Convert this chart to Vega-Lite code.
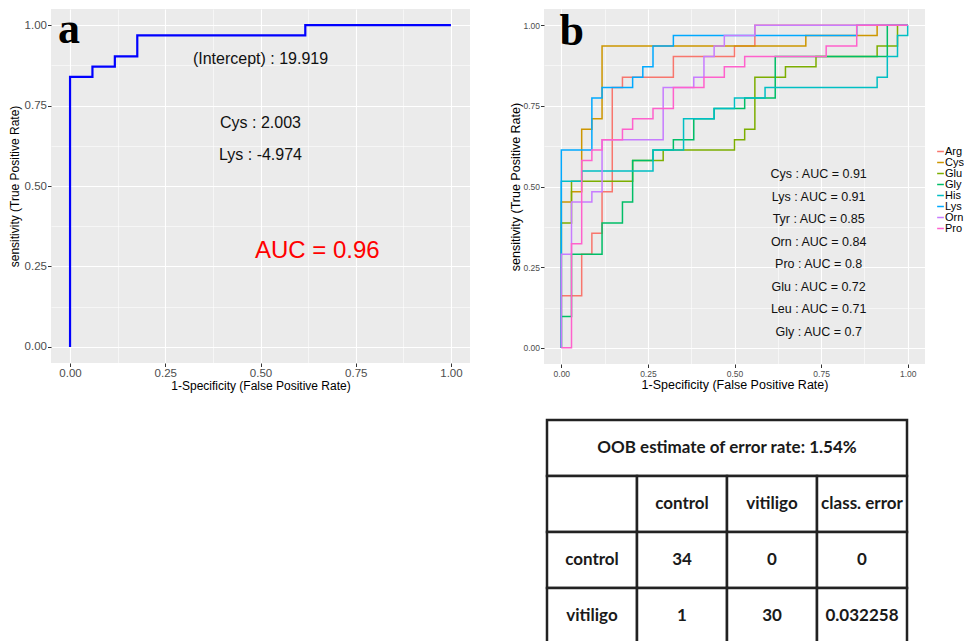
{
"$schema": "https://vega.github.io/schema/vega-lite/v6.json",
"background": "white",
"padding": {"left": 8, "top": 8, "right": 0, "bottom": 0},
"config": {"view": {"stroke": null}, "font": "Liberation Sans"},
"resolve": {"scale": {"color": "independent"}, "legend": {"color": "independent"}},
"datasets": {
  "rocA": [{"i":0,"x":0,"y":0},{"i":1,"x":0,"y":0.839},{"i":2,"x":0.0588,"y":0.871},{"i":3,"x":0.1176,"y":0.903},{"i":4,"x":0.1765,"y":0.968},{"i":5,"x":0.6176,"y":1},{"i":6,"x":1,"y":1}],
  "rocB": [
   {"aa":"Arg","i":0,"x":0,"y":0},{"aa":"Arg","i":1,"x":0,"y":0.1613},{"aa":"Arg","i":2,"x":0.0588,"y":0.2903},{"aa":"Arg","i":3,"x":0.0882,"y":0.3548},{"aa":"Arg","i":4,"x":0.1176,"y":0.4839},{"aa":"Arg","i":5,"x":0.1471,"y":0.8065},{"aa":"Arg","i":6,"x":0.1765,"y":0.8387},{"aa":"Arg","i":7,"x":0.3235,"y":0.9032},{"aa":"Arg","i":8,"x":0.5,"y":0.9355},{"aa":"Arg","i":9,"x":0.5588,"y":1},{"aa":"Arg","i":10,"x":1,"y":1},
   {"aa":"Cys","i":0,"x":0,"y":0},{"aa":"Cys","i":1,"x":0,"y":0.4516},{"aa":"Cys","i":2,"x":0.0294,"y":0.4839},{"aa":"Cys","i":3,"x":0.0588,"y":0.6774},{"aa":"Cys","i":4,"x":0.0882,"y":0.7097},{"aa":"Cys","i":5,"x":0.1176,"y":0.9355},{"aa":"Cys","i":6,"x":0.7059,"y":0.9677},{"aa":"Cys","i":7,"x":0.9118,"y":1},{"aa":"Cys","i":8,"x":1,"y":1},
   {"aa":"Glu","i":0,"x":0,"y":0},{"aa":"Glu","i":1,"x":0,"y":0.3871},{"aa":"Glu","i":2,"x":0.0294,"y":0.5161},{"aa":"Glu","i":3,"x":0.2059,"y":0.5806},{"aa":"Glu","i":4,"x":0.2941,"y":0.6129},{"aa":"Glu","i":5,"x":0.5,"y":0.6452},{"aa":"Glu","i":6,"x":0.5294,"y":0.6774},{"aa":"Glu","i":7,"x":0.5588,"y":0.8387},{"aa":"Glu","i":8,"x":0.6471,"y":0.871},{"aa":"Glu","i":9,"x":0.7353,"y":0.9032},{"aa":"Glu","i":10,"x":0.9118,"y":0.9355},{"aa":"Glu","i":11,"x":0.9706,"y":1},{"aa":"Glu","i":12,"x":1,"y":1},
   {"aa":"Gly","i":0,"x":0,"y":0},{"aa":"Gly","i":1,"x":0,"y":0.0968},{"aa":"Gly","i":2,"x":0.0294,"y":0.2903},{"aa":"Gly","i":3,"x":0.1176,"y":0.3871},{"aa":"Gly","i":4,"x":0.1765,"y":0.4516},{"aa":"Gly","i":5,"x":0.2059,"y":0.5806},{"aa":"Gly","i":6,"x":0.2647,"y":0.6129},{"aa":"Gly","i":7,"x":0.3235,"y":0.6452},{"aa":"Gly","i":8,"x":0.3824,"y":0.7097},{"aa":"Gly","i":9,"x":0.4412,"y":0.7419},{"aa":"Gly","i":10,"x":0.5294,"y":0.7742},{"aa":"Gly","i":11,"x":0.6176,"y":0.9032},{"aa":"Gly","i":12,"x":0.9412,"y":1},{"aa":"Gly","i":13,"x":1,"y":1},
   {"aa":"His","i":0,"x":0,"y":0},{"aa":"His","i":1,"x":0,"y":0.5161},{"aa":"His","i":2,"x":0.0588,"y":0.5484},{"aa":"His","i":3,"x":0.2647,"y":0.6129},{"aa":"His","i":4,"x":0.3529,"y":0.7097},{"aa":"His","i":5,"x":0.4412,"y":0.7419},{"aa":"His","i":6,"x":0.5,"y":0.7742},{"aa":"His","i":7,"x":0.5882,"y":0.8065},{"aa":"His","i":8,"x":0.9118,"y":0.8387},{"aa":"His","i":9,"x":0.9412,"y":0.9032},{"aa":"His","i":10,"x":0.9706,"y":0.9677},{"aa":"His","i":11,"x":1,"y":1},
   {"aa":"Lys","i":0,"x":0,"y":0},{"aa":"Lys","i":1,"x":0,"y":0.6129},{"aa":"Lys","i":2,"x":0.0882,"y":0.7742},{"aa":"Lys","i":3,"x":0.1176,"y":0.8065},{"aa":"Lys","i":4,"x":0.2059,"y":0.8387},{"aa":"Lys","i":5,"x":0.2353,"y":0.871},{"aa":"Lys","i":6,"x":0.2647,"y":0.9355},{"aa":"Lys","i":7,"x":0.3235,"y":0.9677},{"aa":"Lys","i":8,"x":0.8529,"y":1},{"aa":"Lys","i":9,"x":1,"y":1},
   {"aa":"Orn","i":0,"x":0,"y":0},{"aa":"Orn","i":1,"x":0,"y":0.2903},{"aa":"Orn","i":2,"x":0.0294,"y":0.4516},{"aa":"Orn","i":3,"x":0.0882,"y":0.4839},{"aa":"Orn","i":4,"x":0.1176,"y":0.6452},{"aa":"Orn","i":5,"x":0.2941,"y":0.8065},{"aa":"Orn","i":6,"x":0.3824,"y":0.8387},{"aa":"Orn","i":7,"x":0.4118,"y":0.9032},{"aa":"Orn","i":8,"x":0.4412,"y":0.9355},{"aa":"Orn","i":9,"x":0.4706,"y":0.9677},{"aa":"Orn","i":10,"x":0.5588,"y":1},{"aa":"Orn","i":11,"x":1,"y":1},
   {"aa":"Pro","i":0,"x":0,"y":0},{"aa":"Pro","i":1,"x":0.0294,"y":0.3226},{"aa":"Pro","i":2,"x":0.0588,"y":0.5806},{"aa":"Pro","i":3,"x":0.0882,"y":0.6129},{"aa":"Pro","i":4,"x":0.1176,"y":0.6452},{"aa":"Pro","i":5,"x":0.1765,"y":0.6774},{"aa":"Pro","i":6,"x":0.2059,"y":0.7097},{"aa":"Pro","i":7,"x":0.2647,"y":0.7419},{"aa":"Pro","i":8,"x":0.3235,"y":0.8065},{"aa":"Pro","i":9,"x":0.4118,"y":0.8387},{"aa":"Pro","i":10,"x":0.4706,"y":0.871},{"aa":"Pro","i":11,"x":0.5294,"y":0.9032},{"aa":"Pro","i":12,"x":0.7647,"y":0.9355},{"aa":"Pro","i":13,"x":0.8529,"y":1},{"aa":"Pro","i":14,"x":1,"y":1}
  ],
  "table": [
   {"c0":0,"c1":4,"r0":0,"r1":1,"t":"OOB estimate of  error rate: 1.54%"},
   {"c0":0,"c1":1,"r0":1,"r1":2,"t":""},{"c0":1,"c1":2,"r0":1,"r1":2,"t":"control"},{"c0":2,"c1":3,"r0":1,"r1":2,"t":"vitiligo"},{"c0":3,"c1":4,"r0":1,"r1":2,"t":"class. error"},
   {"c0":0,"c1":1,"r0":2,"r1":3,"t":"control"},{"c0":1,"c1":2,"r0":2,"r1":3,"t":"34"},{"c0":2,"c1":3,"r0":2,"r1":3,"t":"0"},{"c0":3,"c1":4,"r0":2,"r1":3,"t":"0"},
   {"c0":0,"c1":1,"r0":3,"r1":4,"t":"vitiligo"},{"c0":1,"c1":2,"r0":3,"r1":4,"t":"1"},{"c0":2,"c1":3,"r0":3,"r1":4,"t":"30"},{"c0":3,"c1":4,"r0":3,"r1":4,"t":"0.032258"}
  ]
},
"spacing": 39,
"hconcat": [
 {
  "width": 419, "height": 354,
  "view": {"fill": "#EBEBEB", "stroke": null},
  "encoding": {
    "x": {"field": "x", "type": "quantitative", "scale": {"domain": [-0.05, 1.05], "nice": false, "zero": false},
      "axis": {"title": "1-Specificity (False Positive Rate)", "values": [0, 0.125, 0.25, 0.375, 0.5, 0.625, 0.75, 0.875, 1], "format": ".2f",
        "labelExpr": "(datum.value * 4) % 1 != 0 ? '' : datum.label", "labelOverlap": false,
        "gridWidth": {"condition": {"test": "(datum.value * 4) % 1 != 0", "value": 0.55}, "value": 1.1},
        "tickOpacity": {"condition": {"test": "(datum.value * 4) % 1 != 0", "value": 0}, "value": 1},
        "domain": false, "grid": true, "gridColor": "white", "tickColor": "#333333", "tickSize": 3.5, "labelColor": "#4D4D4D", "labelFont": "Liberation Sans", "labelFontSize": 11.5, "labelPadding": 1, "labelFlush": false, "titleFont": "Liberation Sans", "titleFontWeight": "normal", "titleColor": "black", "titleFontSize": 12, "titlePadding": 1}},
    "y": {"field": "y", "type": "quantitative", "scale": {"domain": [-0.05, 1.05], "nice": false, "zero": false},
      "axis": {"title": "sensitivity (True Positive Rate)", "values": [0, 0.125, 0.25, 0.375, 0.5, 0.625, 0.75, 0.875, 1], "format": ".2f",
        "labelExpr": "(datum.value * 4) % 1 != 0 ? '' : datum.label", "labelOverlap": false,
        "gridWidth": {"condition": {"test": "(datum.value * 4) % 1 != 0", "value": 0.55}, "value": 1.1},
        "tickOpacity": {"condition": {"test": "(datum.value * 4) % 1 != 0", "value": 0}, "value": 1},
        "domain": false, "grid": true, "gridColor": "white", "tickColor": "#333333", "tickSize": 3.5, "labelColor": "#4D4D4D", "labelFont": "Liberation Sans", "labelFontSize": 11.5, "labelPadding": 1, "labelFlush": false, "titleFont": "Liberation Sans", "titleFontWeight": "normal", "titleColor": "black", "titleFontSize": 12, "titlePadding": 3}}
  },
  "layer": [
   {"data": {"name": "rocA"}, "mark": {"type": "line", "color": "#0000FF", "strokeWidth": 2.2, "interpolate": "step-after"},
    "encoding": {"order": {"field": "i", "type": "quantitative"}}},
   {"data": {"values": [{"t": "(Intercept) : 19.919", "x": 0.5, "y": 0.895}, {"t": "Cys : 2.003", "x": 0.5, "y": 0.697}, {"t": "Lys : -4.974", "x": 0.5, "y": 0.596}]},
    "mark": {"type": "text", "fontSize": 16, "color": "#111111", "baseline": "middle"},
    "encoding": {"text": {"field": "t"}}},
   {"data": {"values": [{"t": "AUC = 0.96", "x": 0.649, "y": 0.297}]},
    "mark": {"type": "text", "fontSize": 24, "color": "#FF0000", "baseline": "middle"},
    "encoding": {"text": {"field": "t"}}},
   {"data": {"values": [{"t": "a", "x": -0.003, "y": 0.944}]},
    "mark": {"type": "text", "fontSize": 44, "font": "Liberation Serif", "fontWeight": "bold", "color": "black", "baseline": "alphabetic"},
    "encoding": {"text": {"field": "t"}}}
  ]
 },
 {
  "spacing": 27,
  "resolve": {"scale": {"color": "independent"}, "legend": {"color": "independent"}},
  "vconcat": [
   {
    "width": 381, "height": 355,
    "view": {"fill": "#EBEBEB", "stroke": null},
    "encoding": {
      "x": {"field": "x", "type": "quantitative", "scale": {"domain": [-0.05, 1.05], "nice": false, "zero": false},
        "axis": {"title": "1-Specificity (False Positive Rate)", "values": [0, 0.125, 0.25, 0.375, 0.5, 0.625, 0.75, 0.875, 1], "format": ".2f",
          "labelExpr": "(datum.value * 4) % 1 != 0 ? '' : datum.label", "labelOverlap": false,
          "gridWidth": {"condition": {"test": "(datum.value * 4) % 1 != 0", "value": 0.55}, "value": 1.1},
          "tickOpacity": {"condition": {"test": "(datum.value * 4) % 1 != 0", "value": 0}, "value": 1},
          "domain": false, "grid": true, "gridColor": "white", "tickColor": "#333333", "tickSize": 3.5, "labelColor": "#4D4D4D", "labelFont": "Liberation Sans", "labelFontSize": 8.5, "labelPadding": 1.5, "labelFlush": false, "titleFont": "Liberation Sans", "titleFontWeight": "normal", "titleColor": "black", "titleFontSize": 12.5, "titlePadding": 1}},
      "y": {"field": "y", "type": "quantitative", "scale": {"domain": [-0.05, 1.05], "nice": false, "zero": false},
        "axis": {"title": "sensitivity (True Positive Rate)", "values": [0, 0.125, 0.25, 0.375, 0.5, 0.625, 0.75, 0.875, 1], "format": ".2f",
          "labelExpr": "(datum.value * 4) % 1 != 0 ? '' : datum.label", "labelOverlap": false,
          "gridWidth": {"condition": {"test": "(datum.value * 4) % 1 != 0", "value": 0.55}, "value": 1.1},
          "tickOpacity": {"condition": {"test": "(datum.value * 4) % 1 != 0", "value": 0}, "value": 1},
          "domain": false, "grid": true, "gridColor": "white", "tickColor": "#333333", "tickSize": 3.5, "labelColor": "#4D4D4D", "labelFont": "Liberation Sans", "labelFontSize": 8.5, "labelPadding": 1, "labelFlush": false, "titleFont": "Liberation Sans", "titleFontWeight": "normal", "titleColor": "black", "titleFontSize": 12.5, "titlePadding": 0}}
    },
    "layer": [
     {"data": {"name": "rocB"}, "mark": {"type": "line", "strokeWidth": 1.5, "interpolate": "step-after"},
      "encoding": {
       "color": {"field": "aa", "type": "nominal",
         "scale": {"domain": ["Arg", "Cys", "Glu", "Gly", "His", "Lys", "Orn", "Pro"], "range": ["#F8766D", "#CD9600", "#7CAE00", "#00BE67", "#00BFC4", "#00A9FF", "#C77CFF", "#FF61CC"]},
         "legend": {"title": null, "orient": "none", "legendX": 391, "legendY": 137, "symbolType": "stroke", "symbolStrokeWidth": 1.5, "symbolSize": 45, "labelFontSize": 11, "labelFont": "Liberation Sans", "labelColor": "black", "rowPadding": -1.2, "labelOffset": -1, "padding": 0}},
       "order": {"field": "i", "type": "quantitative"}}},
     {"data": {"values": [{"t": "Cys : AUC = 0.91", "x": 0.743, "y": 0.538}, {"t": "Lys : AUC = 0.91", "x": 0.743, "y": 0.469}, {"t": "Tyr : AUC = 0.85", "x": 0.743, "y": 0.399}, {"t": "Orn : AUC = 0.84", "x": 0.743, "y": 0.329}, {"t": "Pro : AUC = 0.8", "x": 0.743, "y": 0.259}, {"t": "Glu : AUC = 0.72", "x": 0.743, "y": 0.19}, {"t": "Leu : AUC = 0.71", "x": 0.743, "y": 0.12}, {"t": "Gly : AUC = 0.7", "x": 0.743, "y": 0.05}]},
      "mark": {"type": "text", "fontSize": 12.5, "color": "#111111", "baseline": "middle"},
      "encoding": {"text": {"field": "t"}}},
     {"data": {"values": [{"t": "b", "x": 0.03, "y": 0.939}]},
      "mark": {"type": "text", "fontSize": 44, "font": "Liberation Serif", "fontWeight": "bold", "color": "black", "baseline": "alphabetic"},
      "encoding": {"text": {"field": "t"}}}
    ]
   },
   {
    "width": 363, "height": 224,
    "data": {"name": "table"},
    "transform": [{"calculate": "(datum.c0 + datum.c1) / 2", "as": "cx"}, {"calculate": "(datum.r0 + datum.r1) / 2", "as": "cy"}],
    "layer": [
     {"mark": {"type": "rect", "fill": "white", "stroke": "#222222", "strokeWidth": 2.5},
      "encoding": {"x": {"field": "c0", "type": "quantitative", "scale": {"domain": [-0.0333, 4], "nice": false, "zero": false}, "axis": null},
       "x2": {"field": "c1"},
       "y": {"field": "r0", "type": "quantitative", "scale": {"domain": [0, 4], "reverse": true, "nice": false}, "axis": null},
       "y2": {"field": "r1"}}},
     {"mark": {"type": "text", "font": "Lato", "fontWeight": "bold", "fontSize": 17, "color": "#1a1a1a", "baseline": "middle"},
      "encoding": {"x": {"field": "cx", "type": "quantitative", "axis": null},
       "y": {"field": "cy", "type": "quantitative", "axis": null},
       "text": {"field": "t"}}}
    ]
   }
  ]
 }
]
}
